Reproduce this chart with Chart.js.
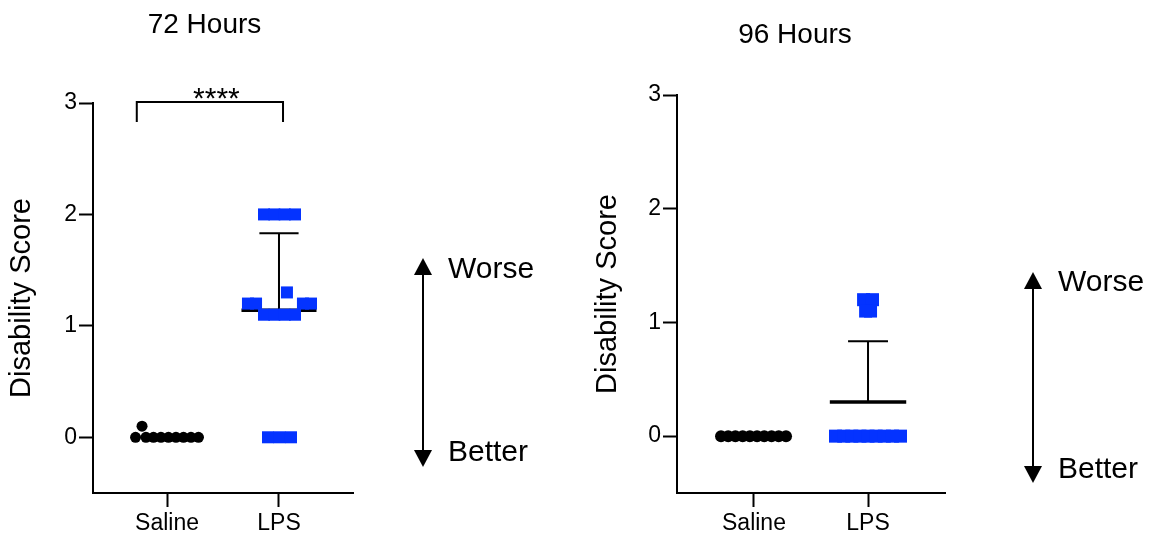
<!DOCTYPE html>
<html>
<head>
<meta charset="utf-8">
<script src="https://cdn.jsdelivr.net/npm/chart.js@4.4.1/dist/chart.umd.min.js"></script>
<style>
  html, body { margin: 0; padding: 0; background: #fff; }
  #wrap { position: relative; width: 1155px; height: 538px; overflow: hidden; }
  .panel { position: absolute; top: 0; height: 538px; }
</style>
</head>
<body>
<div id="wrap">
  <div class="panel" style="left:0;width:577px"><canvas id="c72" width="577" height="538"></canvas></div>
  <div class="panel" style="left:577px;width:578px"><canvas id="c96" width="578" height="538"></canvas></div>
</div>
<script>
// Group names on the x axis (Saline at 0, LPS at 1) and y tick values
const groups = ['Saline', 'LPS'];
const yTicks = [0, 1, 2, 3];

// 72 hours: individual scores, x is the scatter offset around each group
const saline72X = [-0.281, -0.223, -0.188, -0.121, -0.054, 0.013, 0.080, 0.147, 0.214, 0.281];
const saline72Y = [0, 0.1, 0, 0, 0, 0, 0, 0, 0, 0];
const lps72X = [0.866, 0.958, 1.051, 1.143,
                0.723, 0.795, 1.214, 1.286,
                0.866, 0.958, 1.051, 1.143,
                1.071,
                0.902, 1.004, 1.107];
const lps72Y = [2, 2, 2, 2,
                1.2, 1.2, 1.2, 1.2,
                1.1, 1.1, 1.1, 1.1,
                1.3,
                0, 0, 0];
const lps72Mean = 1.14;
const lps72ErrTop = 1.83;

// 96 hours
const saline96X = [-0.289, -0.226, -0.163, -0.099, -0.036, 0.027, 0.090, 0.154, 0.217, 0.281];
const saline96Y = [0, 0, 0, 0, 0, 0, 0, 0, 0, 0];
const lps96X = [0.961, 1.039,
                0.979, 1.022,
                0.715, 0.787, 0.858, 0.929, 1.0, 1.071, 1.143, 1.214, 1.285];
const lps96Y = [1.2, 1.2,
                1.1, 1.1,
                0, 0, 0, 0, 0, 0, 0, 0, 0];
const lps96Mean = 0.30;
const lps96ErrTop = 0.835;

// Significance bracket between the groups at 72 h
const bracketX = [-0.27, 1.036];
const bracketY = [3.01, 2.83];
const bracketLabel = '****';

const FONT = 'Arial, "Liberation Sans", Helvetica, sans-serif';
const BLUE = '#0433ff';
const BLACK = '#000000';

function pts(xs, ys) { return xs.map((x, i) => ({ x: x, y: ys[i] })); }

function meanLine(center, mean, half) {
  return [{ x: center - half, y: mean }, { x: center + half, y: mean }];
}
function errorBar(center, mean, top, capHalf) {
  return [
    { x: center, y: mean }, { x: center, y: top },
    { x: center, y: null },
    { x: center - capHalf, y: top }, { x: center + capHalf, y: top }
  ];
}

// Titles, bracket and the Worse/Better arrow
const annotations = {
  id: 'annotations',
  afterDraw(chart, args, o) {
    const ctx = chart.ctx;
    ctx.save();
    ctx.fillStyle = BLACK;
    ctx.strokeStyle = BLACK;

    ctx.font = o.titleSize + 'px ' + FONT;
    ctx.textAlign = 'center';
    ctx.textBaseline = 'alphabetic';
    ctx.fillText(o.title, o.titleX, o.titleY);

    if (o.bracket) {
      const xs = chart.scales.x, ys = chart.scales.y;
      const x1 = xs.getPixelForValue(o.bracket.x[0]);
      const x2 = xs.getPixelForValue(o.bracket.x[1]);
      const yt = ys.getPixelForValue(o.bracket.y[0]);
      const yb = ys.getPixelForValue(o.bracket.y[1]);
      ctx.lineWidth = 2;
      ctx.beginPath();
      ctx.moveTo(x1, yb); ctx.lineTo(x1, yt); ctx.lineTo(x2, yt); ctx.lineTo(x2, yb);
      ctx.stroke();
      ctx.font = o.bracket.size + 'px ' + FONT;
      ctx.textAlign = 'center';
      ctx.textBaseline = 'alphabetic';
      ctx.fillText(o.bracket.label, (x1 + x2) / 2 + o.bracket.dx, yt + o.bracket.dy);
    }

    const a = o.arrow;
    ctx.lineWidth = 2;
    ctx.beginPath();
    ctx.moveTo(a.x, a.top + a.head - 1);
    ctx.lineTo(a.x, a.bottom - a.head + 1);
    ctx.stroke();
    ctx.beginPath();
    ctx.moveTo(a.x, a.top);
    ctx.lineTo(a.x - a.headW / 2, a.top + a.head);
    ctx.lineTo(a.x + a.headW / 2, a.top + a.head);
    ctx.closePath();
    ctx.fill();
    ctx.beginPath();
    ctx.moveTo(a.x, a.bottom);
    ctx.lineTo(a.x - a.headW / 2, a.bottom - a.head);
    ctx.lineTo(a.x + a.headW / 2, a.bottom - a.head);
    ctx.closePath();
    ctx.fill();

    ctx.font = a.size + 'px ' + FONT;
    ctx.textAlign = 'left';
    ctx.textBaseline = 'middle';
    ctx.fillText('Worse', a.textX, a.worseY);
    ctx.fillText('Better', a.textX, a.betterY);
    ctx.restore();
  }
};

function makeChart(id, cfg) {
  const datasets = [
    {
      type: 'line', data: meanLine(1, cfg.mean, 0.335),
      borderColor: BLACK, borderWidth: 3.5, pointRadius: 0, order: 3, clip: false
    },
    {
      type: 'line', data: errorBar(1, cfg.mean, cfg.errTop, 0.175),
      borderColor: BLACK, borderWidth: 2, pointRadius: 0, spanGaps: false, order: 3, clip: false
    },
    {
      type: 'scatter', data: pts(cfg.salX, cfg.salY),
      pointStyle: 'circle', pointRadius: cfg.dotR, backgroundColor: BLACK,
      borderWidth: 0, order: 1, clip: false
    },
    {
      type: 'scatter', data: pts(cfg.lpsX, cfg.lpsY),
      pointStyle: 'rect', pointRadius: cfg.sqR, backgroundColor: BLUE,
      borderWidth: 0, order: 2, clip: false
    }
  ];

  return new Chart(document.getElementById(id), {
    type: 'scatter',
    data: { datasets: datasets },
    plugins: [annotations],
    options: {
      responsive: false,
      animation: false,
      devicePixelRatio: 1,
      events: [],
      layout: { padding: { left: 0, top: cfg.top, right: cfg.right, bottom: 0 } },
      plugins: {
        legend: { display: false },
        tooltip: { enabled: false },
        annotations: cfg.annot
      },
      scales: {
        x: {
          type: 'linear',
          min: cfg.xMin, max: cfg.xMax,
          afterBuildTicks: s => { s.ticks = [0, 1].map(v => ({ value: v })); },
          afterFit: s => { s.height = 45; },
          ticks: {
            callback: v => groups[v],
            color: BLACK, font: { family: FONT, size: 23 }, padding: 3,
            maxRotation: 0, autoSkip: false
          },
          grid: { display: true, drawOnChartArea: false, drawTicks: true, tickLength: 14, tickColor: BLACK, tickWidth: 2, color: BLACK },
          border: { display: true, color: BLACK, width: 2 }
        },
        y: {
          type: 'linear',
          min: -0.5, max: 3,
          afterBuildTicks: s => { s.ticks = yTicks.map(v => ({ value: v })); },
          afterFit: s => { s.width = cfg.yWidth; },
          ticks: {
            color: BLACK, font: { family: FONT, size: 23 }, padding: 2
          },
          grid: { display: true, drawOnChartArea: false, drawTicks: true, tickLength: 14, tickColor: BLACK, tickWidth: 2, color: BLACK },
          border: { display: true, color: BLACK, width: 2 },
          title: {
            display: true, text: 'Disability Score', color: BLACK,
            font: { family: FONT, size: 29 }, padding: { top: cfg.titlePad, bottom: 0 }
          }
        }
      }
    }
  });
}

makeChart('c72', {
  salX: saline72X, salY: saline72Y, lpsX: lps72X, lpsY: lps72Y,
  mean: lps72Mean, errTop: lps72ErrTop,
  dotR: 5.5, sqR: 8.5,
  top: 103, right: 224, yWidth: 93, titlePad: 5,
  xMin: -0.661, xMax: 1.661,
  annot: {
    title: '72 Hours', titleSize: 28, titleX: 204.5, titleY: 33,
    bracket: { x: bracketX, y: bracketY, label: bracketLabel, size: 30, dx: 6.5, dy: 6 },
    arrow: { x: 423, top: 258, bottom: 467, head: 17, headW: 18, size: 30, textX: 448, worseY: 270, betterY: 453 }
  }
});

makeChart('c96', {
  salX: saline96X, salY: saline96Y, lpsX: lps96X, lpsY: lps96Y,
  mean: lps96Mean, errTop: lps96ErrTop,
  dotR: 6, sqR: 9.2,
  top: 95, right: 210, yWidth: 100, titlePad: 14,
  xMin: -0.675, xMax: 1.675,
  annot: {
    title: '96 Hours', titleSize: 28, titleX: 218, titleY: 43,
    bracket: null,
    arrow: { x: 456, top: 272, bottom: 483, head: 17, headW: 18, size: 30, textX: 481, worseY: 283, betterY: 470 }
  }
});
</script>
</body>
</html>
